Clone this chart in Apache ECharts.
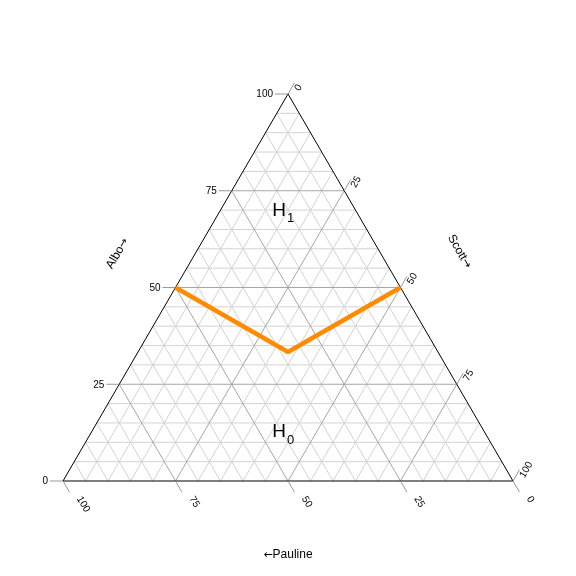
<!DOCTYPE html>
<html><head><meta charset="utf-8">
<script src="https://cdn.jsdelivr.net/npm/echarts@6/dist/echarts.min.js"></script>
<style>html,body{margin:0;background:#fff}#c{width:576px;height:576px}</style>
</head><body><div id="c"></div>
<script>
// Axis names (top vertex, bottom-right vertex, bottom-left vertex)
const axisNames = ['Albo', 'Scott', 'Pauline'];
const axisArrows = ['\u2192', '\u2192', '\u2190'];
const tickValues = [0, 25, 50, 75, 100];
const tickLabels = ['0', '25', '50', '75', '100'];
const minorGrid = [5, 10, 15, 20, 30, 35, 40, 45, 55, 60, 65, 70, 80, 85, 90, 95];
const majorGrid = [25, 50, 75];
// Orange curve in ternary components
const curveAlbo = [50, 33.33, 50];
const curveScott = [0, 33.33, 50];
const curvePauline = [50, 33.33, 0];
// Region annotations
const regionMain = ['H', 'H'];
const regionSub = ['1', '0'];
const regionAlbo = [69.8, 12.6];
const regionScott = [15.1, 43.7];
const regionPauline = [15.1, 43.7];

function toXY(a, s, p) {
  const t = a + s + p;
  a /= t; s /= t;
  return [s + a / 2, a];
}
const FONT = '"Liberation Sans", Arial, sans-serif';
const ARROWFONT = '"DejaVu Sans", sans-serif';

function seg(api, p1, p2, stroke, w) {
  const a = api.coord(p1), b = api.coord(p2);
  return { type: 'line', shape: { x1: a[0], y1: a[1], x2: b[0], y2: b[1] },
           style: { stroke: stroke, lineWidth: w } };
}
function gridLinesFor(api, vals, color) {
  const out = [];
  vals.forEach(v => {
    out.push(seg(api, toXY(v, 0, 100 - v), toXY(v, 100 - v, 0), color, 1));
    out.push(seg(api, toXY(0, v, 100 - v), toXY(100 - v, v, 0), color, 1));
    out.push(seg(api, toXY(0, 100 - v, v), toXY(100 - v, 0, v), color, 1));
  });
  return out;
}
function txt(x, y, text, size, align, rot) {
  return { type: 'text', x: x, y: y, rotation: (rot || 0) * Math.PI / 180,
    style: { text: text, fill: '#000', font: size + 'px ' + FONT,
             align: align, verticalAlign: 'middle' } };
}
function titleTxt(x, y, name, arrow, arrowFirst, rot) {
  const text = arrowFirst ? '{a|' + arrow + '}{n|' + name + '}' : '{n|' + name + '}{a|' + arrow + '}';
  return { type: 'text', x: x, y: y, rotation: rot * Math.PI / 180,
    style: { text: text, fill: '#000', align: 'center', verticalAlign: 'middle',
      rich: {
        n: { font: '12px ' + FONT, fill: '#000' },
        a: { font: '11px ' + ARROWFONT, fill: '#000' }
      } } };
}

function renderFrame(params, api) {
  const children = [];
  gridLinesFor(api, minorGrid, '#d3d3d3').forEach(c => children.push(c));
  gridLinesFor(api, majorGrid, '#a6a6a6').forEach(c => children.push(c));
  const T = toXY(100, 0, 0), R = toXY(0, 100, 0), L = toXY(0, 0, 100);
  children.push(seg(api, L, R, '#000', 1));
  children.push(seg(api, R, T, '#000', 1));
  children.push(seg(api, T, L, '#000', 1));
  const tl = 13;
  const dx = Math.cos(Math.PI / 3) * tl, dy = Math.sin(Math.PI / 3) * tl;
  tickValues.forEach(v => {
    let p = api.coord(toXY(v, 0, 100 - v));
    children.push({ type: 'line', shape: { x1: p[0], y1: p[1], x2: p[0] - tl, y2: p[1] },
      style: { stroke: '#999', lineWidth: 1 } });
    p = api.coord(toXY(100 - v, v, 0));
    children.push({ type: 'line', shape: { x1: p[0], y1: p[1], x2: p[0] + dx, y2: p[1] - dy },
      style: { stroke: '#999', lineWidth: 1 } });
    p = api.coord(toXY(0, 100 - v, v));
    children.push({ type: 'line', shape: { x1: p[0], y1: p[1], x2: p[0] + dx, y2: p[1] + dy },
      style: { stroke: '#999', lineWidth: 1 } });
  });
  return { type: 'group', children: children };
}

function renderLabels(params, api) {
  const children = [];
  tickValues.forEach((v, i) => {
    let p = api.coord(toXY(v, 0, 100 - v));
    children.push(txt(p[0] - 15, p[1] + 0.5, tickLabels[i], 10, 'right', 0));
    p = api.coord(toXY(100 - v, v, 0));
    children.push(txt(p[0] + 9, p[1] - 4, tickLabels[i], 10, 'left', 60));
    p = api.coord(toXY(0, 100 - v, v));
    children.push(txt(p[0] + 16, p[1] + 16, tickLabels[i], 10, 'left', -60));
  });
  let m = api.coord(toXY(50, 0, 50));
  children.push(titleTxt(m[0] - 58, m[1] - 34, axisNames[0], axisArrows[0], false, 60));
  m = api.coord(toXY(50, 50, 0));
  children.push(titleTxt(m[0] + 59, m[1] - 36, axisNames[1], axisArrows[1], false, -60));
  m = api.coord(toXY(0, 50, 50));
  children.push(titleTxt(m[0], m[1] + 74, axisNames[2], axisArrows[2], true, 0));
  regionMain.forEach((h, i) => {
    const c = api.coord(toXY(regionAlbo[i], regionScott[i], regionPauline[i]));
    children.push({ type: 'text', x: c[0] - 2, y: c[1],
      style: { text: h, fill: '#000', font: '19px ' + FONT, align: 'right', verticalAlign: 'middle' } });
    children.push({ type: 'text', x: c[0] - 1, y: c[1] + 8,
      style: { text: regionSub[i], fill: '#000', font: '13px ' + FONT, align: 'left', verticalAlign: 'middle' } });
  });
  return { type: 'group', children: children };
}

const curveData = curveAlbo.map((a, i) => toXY(a, curveScott[i], curvePauline[i]));

const chart = echarts.init(document.getElementById('c'), null, { renderer: 'canvas' });
chart.setOption({
  animation: false,
  backgroundColor: '#fff',
  grid: { left: 63, top: 94, width: 450, height: 387 },
  xAxis: { type: 'value', min: 0, max: 1, show: false },
  yAxis: { type: 'value', min: 0, max: 1, show: false },
  series: [
    { type: 'custom', renderItem: renderFrame, data: [[0, 0]], silent: true, z: 1 },
    { type: 'line', data: curveData, symbol: 'none', z: 3,
      lineStyle: { color: '#FF8C00', width: 4.5 } },
    { type: 'custom', renderItem: renderLabels, data: [[0, 0]], silent: true, z: 4 }
  ]
});
</script></body></html>
